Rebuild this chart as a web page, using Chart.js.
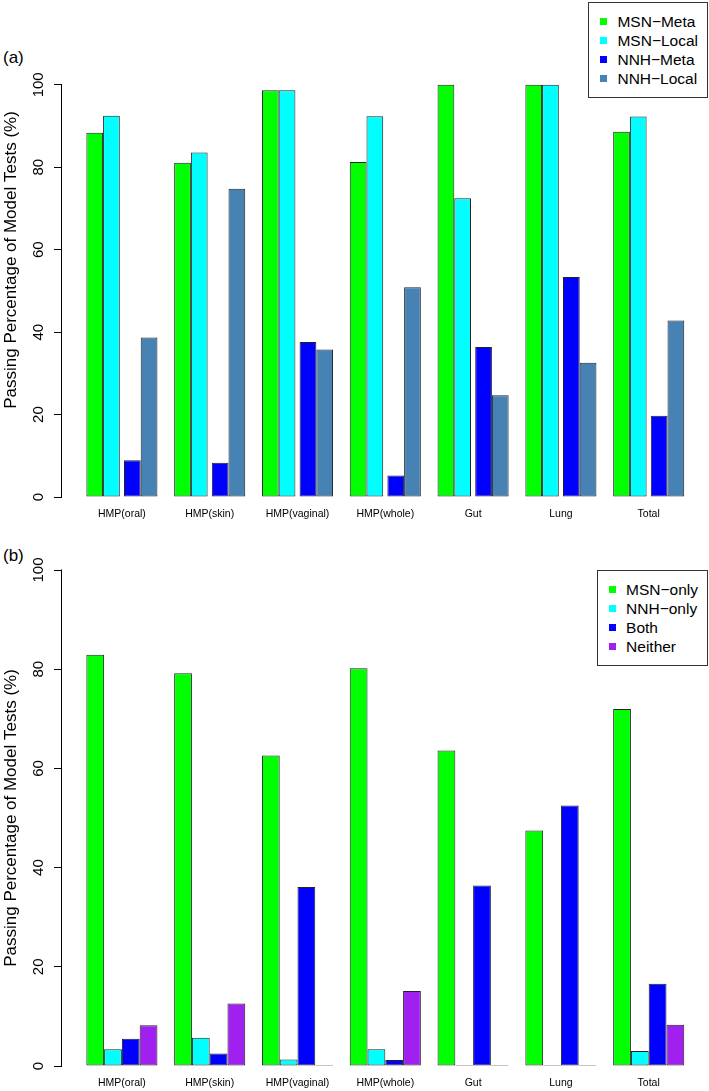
<!DOCTYPE html>
<html>
<head>
<meta charset="utf-8">
<script src="https://cdn.jsdelivr.net/npm/chart.js@4.4.0/dist/chart.umd.min.js"></script>
<style>
  html, body { margin: 0; padding: 0; background: #fff; }
  body { width: 709px; height: 1091px; position: relative; overflow: hidden;
         font-family: "Liberation Sans", Arial, sans-serif; color: #000; }
  .panel { position: absolute; left: 0; }
  #panelA { top: 0; }
  #panelB { top: 545px; }
  .tag { position: absolute; left: 3px; font-size: 17px; line-height: 20px; }
  .legend { position: absolute; right: 1px; border: 1px solid #333; background: #fff;
            padding: 9px 9px 9px 11px; font-size: 15.5px; }
  .legend .row { height: 19px; line-height: 19px; white-space: nowrap; }
  .legend .sw { display: inline-block; width: 7px; height: 7px; margin-right: 10px;
                vertical-align: middle; position: relative; top: -1px; }
</style>
</head>
<body>
<div class="tag" style="top:48px">(a)</div>
<div class="tag" style="top:546px">(b)</div>
<canvas id="panelA" class="panel" width="709" height="545"></canvas>
<canvas id="panelB" class="panel" width="709" height="546"></canvas>
<div id="legendA" class="legend" style="top:2px"></div>
<div id="legendB" class="legend" style="top:570px"></div>

<script>
const categories = ['HMP(oral)', 'HMP(skin)', 'HMP(vaginal)', 'HMP(whole)', 'Gut', 'Lung', 'Total']
const yTicks = [0, 20, 40, 60, 80, 100]

// panel (a)
const msnMeta  = [88.4, 81.1, 98.7, 81.3, 100, 100, 88.6]
const msnLocal = [92.5, 83.6, 98.7, 92.4, 72.5, 100, 92.3]
const nnhMeta  = [8.9, 8.3, 37.6, 5.2, 36.4, 53.4, 19.7]
const nnhLocal = [38.7, 74.8, 35.8, 50.9, 24.7, 32.6, 42.8]

// panel (b)
const msnOnly = [82.9, 79.2, 62.6, 80.2, 63.6, 47.5, 72.0]
const nnhOnly = [3.4, 5.7, 1.3, 3.4, 0, 0, 3.0]
const both    = [5.5, 2.5, 36.1, 1.2, 36.4, 52.5, 16.6]
const neither = [8.2, 12.6, 0, 15.1, 0, 0, 8.3]

const yTitle = 'Passing Percentage of Model Tests (%)'

Chart.defaults.font.family = '"Liberation Sans", Arial, sans-serif'
Chart.defaults.color = '#000'

// moves the two NNH bars a little to the right of the MSN pair, like the R plot
const pairGap = {
  id: 'pairGap',
  afterDatasetsUpdate(chart, args, opts) {
    if (!opts.shifts) return
    chart.data.datasets.forEach((ds, i) => {
      const f = opts.shifts[i] || 0
      chart.getDatasetMeta(i).data.forEach(bar => { bar.x += f * bar.width })
    })
  }
}

// R style axis line: only from the first to the last tick
const tickLine = {
  id: 'tickLine',
  afterDraw(chart) {
    const s = chart.scales.y
    const ctx = chart.ctx
    const x = Math.round(s.right) - 0.5
    ctx.save()
    ctx.strokeStyle = '#000'
    ctx.lineWidth = 1
    ctx.beginPath()
    ctx.moveTo(x, s.getPixelForValue(yTicks[0]) + 0.5)
    ctx.lineTo(x, s.getPixelForValue(yTicks[yTicks.length - 1]) - 0.5)
    ctx.stroke()
    ctx.restore()
  }
}

function series(label, data, color) {
  return {
    label, data,
    backgroundColor: color,
    borderColor: '#222',
    borderWidth: 1,
    borderSkipped: false
  }
}

function scales(xHeight, yMax) {
  return {
    x: {
      type: 'category',
      offset: true,
      afterFit: s => { s.height = xHeight },
      grid: { display: false, drawTicks: false },
      border: { display: false },
      ticks: { font: { size: 10.5 }, padding: 11, maxRotation: 0, autoSkip: false }
    },
    y: {
      min: 0, max: yMax,
      weight: 1,
      afterFit: s => { s.width = 62 },
      afterBuildTicks: s => { s.ticks = yTicks.map(v => ({ value: v })) },
      grid: { drawOnChartArea: false, color: '#000', tickLength: 8 },
      border: { display: false },
      ticks: { font: { size: 15 }, minRotation: 90, maxRotation: 90, crossAlign: 'center', padding: 3 },
      title: { display: true, text: yTitle, font: { size: 17 }, padding: { top: 1, bottom: 0 } }
    },
    // empty spacer so the y axis sits left of the first group
    yPad: {
      type: 'linear', position: 'left', display: true, weight: 0,
      afterFit: s => { s.width = 16 },
      grid: { display: false }, border: { display: false }, ticks: { display: false }
    }
  }
}

function makeChart(id, datasets, opts) {
  return new Chart(document.getElementById(id), {
    type: 'bar',
    data: { labels: categories, datasets },
    plugins: [tickLine].concat(opts.plugins || []),
    options: {
      responsive: false,
      animation: false,
      categoryPercentage: opts.catPct,
      barPercentage: opts.barPct,
      minBarLength: opts.minBar || 0,
      layout: { padding: opts.padding },
      scales: scales(opts.xHeight, opts.yMax),
      plugins: {
        legend: { display: false },
        tooltip: { enabled: false },
        pairGap: { shifts: opts.shifts }
      }
    }
  })
}

function htmlLegend(elId, chart) {
  const box = document.getElementById(elId)
  chart.data.datasets.forEach(ds => {
    const row = document.createElement('div')
    row.className = 'row'
    const sw = document.createElement('span')
    sw.className = 'sw'
    sw.style.background = ds.backgroundColor
    row.appendChild(sw)
    row.appendChild(document.createTextNode(ds.label))
    box.appendChild(row)
  })
}

const chartA = makeChart('panelA', [
  series('MSN\u2212Meta', msnMeta, '#00FF00'),
  series('MSN\u2212Local', msnLocal, '#00FFFF'),
  series('NNH\u2212Meta', nnhMeta, '#0000FF'),
  series('NNH\u2212Local', nnhLocal, '#4682B4')
], {
  catPct: 4.25 / 5.25,
  barPct: 1 / 1.0625,
  shifts: [-0.03125, -0.09375, 0.09375, 0.03125],
  plugins: [pairGap],
  yMax: 115,
  padding: { left: 0, right: 16.4, top: 23, bottom: 18 },
  xHeight: 30
})

const chartB = makeChart('panelB', [
  series('MSN\u2212only', msnOnly, '#00FF00'),
  series('NNH\u2212only', nnhOnly, '#00FFFF'),
  series('Both', both, '#0000FF'),
  series('Neither', neither, '#A020F0')
], {
  catPct: 0.81,
  barPct: 1,
  minBar: 1,
  yMax: 100,
  padding: { left: 0, right: 16.4, top: 25, bottom: 0 },
  xHeight: 25
})

htmlLegend('legendA', chartA)
htmlLegend('legendB', chartB)
</script>
</body>
</html>
